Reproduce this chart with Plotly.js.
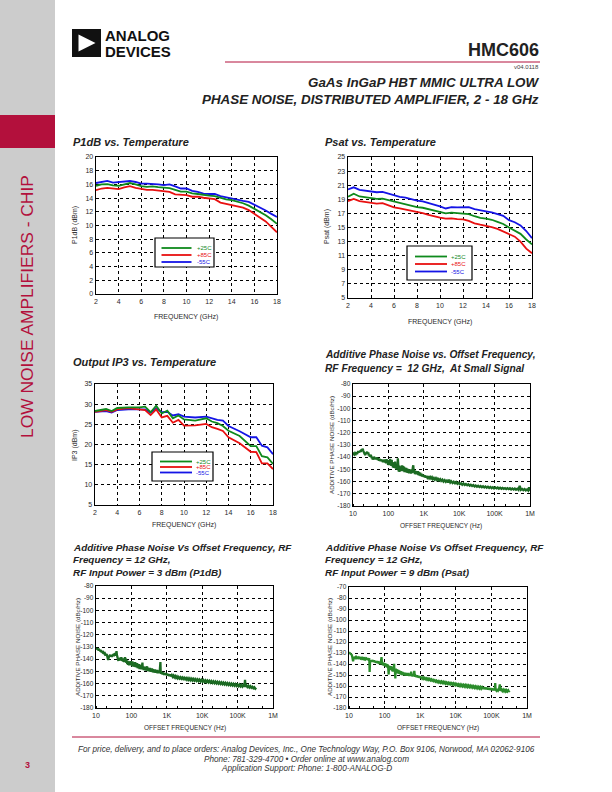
<!DOCTYPE html>
<html><head><meta charset="utf-8">
<script src="https://cdn.plot.ly/plotly-3.0.1.min.js"></script>
<style>html,body{margin:0;padding:0;background:#fff}#chart{width:612px;height:792px}</style>
</head><body><div id="chart"></div>
<script>
// ---------- DATA ----------
const tempFreq = [2,2.5,3,3.5,4,4.5,5,5.5,6,6.5,7,7.5,8,8.5,9,9.5,10,10.5,11,11.5,12,12.5,13,13.5,14,14.5,15,15.5,16,16.5,17,17.5,18];
const p1dbP25 = [15.8,16.0,16.05,15.85,15.8,16.0,16.2,16.0,15.75,15.65,15.7,15.6,15.5,15.45,15.2,14.95,14.95,14.7,14.6,14.45,14.35,14.3,14.0,13.8,13.7,13.5,13.25,12.9,12.45,12.0,11.5,10.9,10.25];
const p1dbP85 = [15.15,15.4,15.5,15.35,15.3,15.55,15.75,15.5,15.3,15.2,15.2,15.1,15.0,14.9,14.55,14.45,14.45,14.2,14.2,14.05,14.0,13.85,13.35,13.15,13.05,12.85,12.6,12.25,11.7,11.2,10.6,9.8,9.0];
const p1dbM55 = [16.2,16.4,16.5,16.25,16.3,16.45,16.5,16.35,16.1,16.1,16.1,16.0,15.9,16.0,15.7,15.4,15.4,15.05,14.9,14.65,14.6,14.6,14.3,14.1,13.95,13.8,13.6,13.45,13.05,12.6,12.2,11.7,11.25];

const psatP25 = [19.35,19.8,19.4,19.3,19.2,19.05,19.1,18.9,18.6,18.45,18.3,18.1,17.9,17.8,17.6,17.35,17.2,17.0,17.1,17.0,16.9,16.9,16.6,16.35,16.25,16.1,15.8,15.5,15.0,14.6,14.1,13.3,12.6];
const psatP85 = [18.75,19.05,18.75,18.65,18.55,18.4,18.45,18.15,17.85,17.7,17.55,17.4,17.25,17.05,16.8,16.55,16.4,16.25,16.3,16.2,16.15,15.95,15.6,15.4,15.25,15.05,14.8,14.45,14.1,13.7,13.0,12.0,11.35];
const psatM55 = [20.4,20.7,20.35,20.25,20.15,20.0,20.05,19.8,19.5,19.35,19.25,19.0,18.8,18.7,18.5,18.25,18.0,17.7,17.9,17.85,17.85,17.9,17.6,17.4,17.3,17.15,16.9,16.65,16.05,15.75,15.3,14.5,13.5];

const ip3Freq = [2,3,3.5,4,5,6,6.5,7,7.5,8,8.5,9,9.5,10,11,12,12.5,13,13.5,14,15,16,16.5,17,17.5,18];
const ip3P25 = [28.3,28.8,28.3,29.05,29.2,29.2,29.4,28.0,29.6,27.7,28.4,26.5,27.2,26.2,25.9,26.5,25.7,25.3,24.6,23.4,22.1,19.6,19.6,17.1,16.8,15.2];
const ip3P85 = [28.1,28.55,28.1,28.7,29.0,28.8,28.55,27.3,28.7,26.7,27.1,25.4,26.1,24.7,24.75,25.1,24.3,23.85,23.35,21.8,20.3,18.2,18.1,15.3,15.3,13.9];
const ip3M55 = [28.1,28.3,27.9,28.55,28.7,28.7,28.7,27.9,29.0,28.0,28.1,27.2,27.5,26.9,26.7,26.9,26.5,26.1,25.9,24.6,23.3,21.8,21.8,19.7,19.3,17.6];

// Additive phase noise, small signal (offset Hz, dBc/Hz)
const pnSmallFreq = [10,10.5,11,11.5,12,12.5,13,13.5,14,14.5,15,15.5,16,16.5,17,17.5,18,18.5,19,19.5,20,21,22,23,24,25,26,27,28,29,30,31,32,33,34,35,36,37,38,39,40,42,44,46,48,50,52,54,56,58,60,62,64,66,68,70,72,75,78,80,83,86,89,92,95,98,100,103,106,109,112,115,118,121,124,127,130,134,138,142,146,150,155,160,165,170,175,180,185,190,195,200,206,212,218,225,232,240,248,256,265,275,285,295,306,318,330,342,355,368,382,396,410,425,440,456,472,490,505,520,540,560,580,600,625,650,675,700,730,760,790,820,860,900,950,1000,1060,1120,1190,1260,1340,1420,1510,1600,1700,1800,1920,2050,2200,2350,2500,2700,2900,3100,3350,3600,3900,4200,4500,4850,5200,5600,6000,6500,7000,7600,8200,8900,9600,10400,11300,12200,13200,14300,15500,16800,18200,19700,21300,23100,25000,27100,29300,31700,34300,37200,40300,43600,47200,51100,55300,59900,64800,70200,76000,82300,89100,96500,104500,113000,122400,132500,143500,155300,168200,182100,197100,213400,231100,250200,270900,293300,317600,343900,372300,403100,436500,472600,511700,554000,599800,649400,703200,761300,824300,892500,940000,966300,1000000];
const pnSmall = [-138.5,-137.2,-137.8,-136.6,-137.2,-136,-137.3,-135.8,-135.2,-136.2,-135,-135.8,-134.6,-135.6,-134.2,-133.6,-134.4,-133.2,-133.6,-134.8,-135.4,-137,-138.2,-137,-136.4,-135.6,-137.2,-136.2,-138.6,-137.8,-139.6,-138.4,-138,-139.8,-140.8,-139.6,-142,-140.6,-141.4,-139.8,-140.2,-141.8,-140.4,-141.6,-140.2,-142.2,-140.8,-142.8,-141.2,-143.2,-141.6,-143.4,-141.8,-143.6,-142,-144.2,-142.2,-143.8,-141.8,-144.4,-142.2,-145,-141.6,-144.8,-142.4,-146.2,-143.2,-146.4,-142.6,-145.8,-141.4,-146.6,-143,-147.2,-142.2,-146.8,-144,-148.4,-144.2,-148.8,-145,-147.8,-143.6,-149.2,-145.6,-150.2,-146.2,-149.6,-141,-148.4,-151.6,-146.8,-152,-147.4,-151.2,-147.8,-150.8,-146.6,-151.4,-147.2,-150.4,-147.8,-152.2,-148.6,-151.8,-148.8,-152.6,-149.4,-152.8,-149.8,-153.2,-150.4,-152.6,-150,-153.4,-150.2,-152.8,-148.4,-146.6,-152.4,-150.6,-153.8,-151.2,-154,-151.6,-153.8,-151.4,-154.6,-152.2,-155,-152.8,-155.4,-153.6,-155.8,-154.2,-156.2,-155,-156.6,-155.4,-156.8,-155.6,-157.2,-156.2,-157.4,-156.4,-158,-157,-158.4,-157.2,-158.6,-157.6,-159,-158,-159.4,-158.4,-160,-158.8,-160.2,-159.2,-160.6,-158.4,-160.8,-159.8,-161.2,-160.2,-161.4,-160.4,-161.8,-161,-162.2,-161.4,-162.6,-161.6,-162.8,-162,-163,-162.2,-163.4,-162.6,-163.6,-162.8,-164,-163.2,-164.2,-163.4,-164.4,-163.6,-164.6,-163.8,-164.8,-164,-165,-164.2,-165.2,-164.4,-165.4,-164.6,-165.6,-164.8,-165.6,-164.9,-165.8,-165,-165.9,-165.2,-166,-165.3,-166.1,-165.4,-166.2,-165.5,-166.4,-165.6,-166.5,-165.7,-166.6,-165.8,-166.8,-163.4,-166.8,-166,-167,-166.2,-167.2,-166.4,-167.3,-164.6,-166.6,-167.4];

// Additive phase noise, RF input power 3 dBm (P1dB)
const pnP1Freq = [10,10.5,11,11.5,12,12.5,13,13.5,14,14.5,15,15.5,16,16.5,17,17.5,18,18.5,19,19.5,20,21,22,23,24,25,26,27,28,29,30,31,32,33,34,35,36,37,38,39,40,41,42,43,44,46,48,50,52,54,56,58,60,62,64,66,68,70,72,74,76,78,80,83,86,89,92,95,98,101,104,107,110,113,116,120,124,128,132,136,140,145,150,155,160,165,170,176,182,188,194,200,205,210,216,222,229,236,244,252,260,268,277,286,295,305,315,325,336,347,358,370,382,395,408,422,436,450,465,480,496,512,530,548,566,585,605,625,645,660,672,690,712,735,760,785,812,840,870,900,940,980,1020,1070,1120,1180,1240,1310,1380,1460,1540,1630,1720,1820,1930,2040,2160,2290,2430,2580,2740,2910,3090,3290,3500,3720,3960,4210,4480,4770,5080,5410,5760,6140,6540,6970,7430,7920,8440,9000,9600,10240,10920,11650,12430,13260,14150,15100,16110,17190,18340,19570,20880,22280,23770,25360,27060,28870,30800,32860,35060,37410,39910,42580,45430,48470,51710,55170,58860,62800,67000,71480,76260,81360,86800,92610,98800,105400,112500,120000,128000,136600,145700,155500,162000,168000,177000,189000,201600,215100,229500,244800,261200,278700,297300,317200,335000];
const pnP1 = [-131,-131.6,-131.4,-132.2,-132,-132.8,-132.6,-133.4,-133.2,-134,-133.6,-134.6,-134.2,-135.2,-134.8,-135.8,-135.2,-136.2,-135.6,-136.8,-135.8,-137.6,-140.6,-138.4,-137.2,-136.4,-137.8,-136.6,-138.2,-136.4,-137.4,-135.8,-137.6,-135.2,-136.8,-134.8,-137.2,-134.2,-133.4,-136.6,-138.4,-141.2,-139.6,-141.4,-139.2,-141,-138.8,-140.6,-138.4,-141.4,-139.4,-142,-139.8,-142.4,-140.2,-138.4,-141.8,-139.6,-143,-141,-143.8,-141.4,-144.6,-141.8,-145,-142.2,-144.4,-141.6,-144.8,-142.4,-145.6,-141.8,-145.8,-142.6,-146.2,-143.2,-145.6,-142.4,-146.6,-143.6,-146,-143.2,-147.4,-144.4,-146.8,-144,-148.2,-145,-147.8,-144.6,-148.4,-145.4,-142.8,-148.2,-145.8,-149,-146.2,-148.6,-146,-149.4,-146.6,-148.8,-145.8,-149.6,-147,-150,-147.4,-149.8,-147.2,-150.4,-147.8,-149.8,-147.6,-150.6,-148.2,-151,-148.6,-150.4,-148.4,-151.2,-149,-150.8,-148.8,-151.6,-149.4,-151.2,-149.2,-151.6,-148,-142.4,-150.6,-152,-150.2,-152.4,-150.6,-152.6,-151,-153,-151.4,-152.8,-151.4,-153.2,-151.8,-153.4,-152.2,-153.8,-152.6,-154,-153,-154.4,-153.4,-154.8,-153.8,-155.2,-154.2,-155.6,-154.6,-155.8,-154.8,-156,-155,-156.2,-155.2,-156.4,-155.4,-156.8,-155.6,-157,-155.8,-157.2,-156,-157.4,-156.2,-157.6,-156.4,-157.8,-156.6,-158,-156.8,-158.2,-157,-158.4,-157.2,-158.6,-157.4,-158.8,-157.6,-159,-157.8,-159.2,-158,-159.4,-158.2,-159.6,-158.4,-159.8,-158.6,-160,-158.8,-160.2,-159,-160.4,-159.2,-160.6,-159.4,-160.8,-159.6,-161,-159.8,-161.2,-160,-161.4,-160.2,-161.6,-160.4,-161.8,-160.6,-162,-160.8,-162.2,-161,-162.4,-161.2,-162.6,-157,-162.4,-161.4,-162.8,-161.8,-163.2,-162.2,-163.4,-162.6,-163.8,-163,-164.2,-163.4];

// Additive phase noise, RF input power 9 dBm (Psat)
const pnSatFreq = [10,10.5,11,11.5,12,12.5,13,13.5,14,14.5,15,15.5,16,17,18,19,20,21,22,23,24,25,26,27,28,29,30,31,32,33,34,35,36,37,37.5,38,38.5,39,40,41,42,44,46,48,50,52,54,56,58,60,62,64,66,68,70,72,74,76,78,80,82,84,86,88,90,93,96,99,102,105,108,111,114,117,120,123,126,128,130,132,134,137,140,143,146,150,154,158,162,166,170,175,180,185,188,191,194,197,200,203,207,212,217,222,228,234,240,247,254,261,268,276,284,292,300,309,318,327,337,347,357,368,379,390,402,414,426,439,452,466,480,494,509,524,540,556,573,590,608,626,645,664,684,700,720,742,764,787,810,835,860,886,912,940,968,1000,1040,1090,1140,1200,1260,1330,1400,1480,1560,1650,1740,1840,1940,2050,2170,2290,2420,2560,2700,2850,3010,3180,3360,3550,3750,3960,4180,4420,4670,4930,5210,5500,5810,6140,6480,6850,7230,7640,8070,8520,9000,9510,10040,10610,11200,11830,12500,13200,13940,14730,15550,16430,17350,18330,19360,20450,21600,22810,24090,25450,26880,28390,29980,31670,33450,35330,37310,39410,41630,43970,46440,49050,51810,54720,57800,61050,64480,68110,71940,75980,80250,84760,89530,94560,99880,105500,111400,117700,124300,128000,131300,138700,146500,154700,163400,172600,176000,182300,192500,203300,214800,226800,239600,253100,267300,282300,298200,310000,320000];
const pnSat = [-129.4,-130,-130.6,-131.2,-131.8,-134.4,-137.6,-135.2,-133.6,-134.2,-133.8,-134.4,-133.6,-134.6,-134,-134.8,-134.2,-135,-134.4,-135.2,-134.6,-135.4,-134.8,-135.6,-135,-135.8,-135.2,-136,-135.2,-136,-135.4,-136.2,-135.4,-134.8,-140,-147.2,-141.4,-138.4,-136.8,-137.8,-136.6,-137.8,-136.4,-138,-136.8,-138.4,-137,-138.8,-137.2,-139,-137.4,-139.2,-137.6,-139.6,-137.8,-140,-138,-140.2,-138.4,-136.4,-133.8,-137.6,-140.4,-138.6,-141,-138.8,-141.4,-139.2,-141.8,-139.4,-142.4,-140,-142.8,-140.2,-143.2,-140.6,-143,-146.4,-149.6,-144.8,-141.6,-144.4,-141.8,-145,-142,-145.6,-142.4,-146,-143,-146.6,-143.4,-147,-143.8,-139.8,-145.4,-148.2,-145,-150.6,-153.2,-147.2,-144.2,-147.8,-144.6,-148.2,-145,-148.6,-145.4,-148.8,-145.8,-149,-146.2,-149.4,-146.6,-149.6,-147,-150,-147.2,-150.2,-147.6,-150.4,-147.8,-150.6,-148,-150.2,-148.2,-150.8,-148.4,-150.6,-148.2,-150.8,-148.6,-151,-148.8,-150.8,-148.6,-147,-151,-149.2,-151.4,-149.4,-151.2,-149.6,-146.2,-149.8,-151.6,-150,-151.8,-150.2,-152,-150.6,-152.2,-150.8,-152.4,-151,-152.6,-151.4,-152.8,-151.8,-153.2,-152.2,-153.4,-152.6,-153.8,-153,-154.2,-153.2,-154.4,-153.6,-154.8,-154,-155.2,-154.4,-155.6,-154.8,-156,-155.2,-156.4,-155.6,-156.8,-155.8,-157,-156,-157.2,-156.2,-157.4,-156.4,-157.8,-156.8,-158,-157,-158.2,-157.2,-158.4,-157.4,-158.6,-157.6,-158.8,-157.8,-159.2,-158.2,-159.4,-158.4,-159.8,-158.6,-160,-158.8,-160.2,-159,-160.4,-159.2,-160.6,-159.4,-160.8,-159.6,-161,-159.8,-161.2,-160,-161.4,-160.2,-161.6,-160.4,-161.8,-160.6,-162,-160.8,-162.2,-161,-162.4,-161.2,-162.6,-161.2,-162.8,-161.4,-163,-161.6,-163.2,-161.8,-163.4,-162,-163.6,-162.2,-163.8,-162.4,-164,-157.4,-163.2,-164.2,-162.8,-164.2,-163,-158.6,-163.4,-164.4,-163.2,-164.6,-163.4,-164.8,-163.6,-165,-163.8,-165,-164,-165.2,-164.2];

const tempLabels = ['+25C','+85C','-55C'];
const logTickVals = [10,100,1000,10000,100000,1000000];
const logTickText = ['10','100','1K','10K','100K','1M'];
const pnTickVals = [-180,-170,-160,-150,-140,-130,-120,-110,-100,-90,-80,-70];
const pnTickText = ['-180','-170','-160','-150','-140','-130','-120','-110','-100','-90','-80','-70'];

// ---------- STYLE ----------
const FONT = 'Liberation Sans, Arial, Helvetica, sans-serif';
const W = 612, H = 792;
const px = x => x / W, py = y => 1 - y / H;
const GREEN = '#0e8a1c', RED = '#e81010', BLUE = '#1414e6';
const PN_DARK = '#1b6a22', PN_LIGHT = '#2a8c2a';
const CRIMSON = '#b3103c';
const TXT = '#2a2a2a';

function axis(x0, x1, anchor, extra) {
  return Object.assign({
    domain: [x0, x1], anchor: anchor, showline: true, mirror: true, linecolor: '#000', linewidth: 1.4,
    showgrid: true, gridcolor: '#000', griddash: 'dot', gridwidth: 1, zeroline: false, ticks: '',
    tickfont: {family: FONT, size: 7, color: TXT}, fixedrange: true
  }, extra);
}
const linX = {range: [2, 18], tick0: 2, dtick: 2};
const logX = {type: 'log', range: [1, 6], tickmode: 'array', tickvals: logTickVals, ticktext: logTickText,
  minor: {ticks: 'inside', ticklen: 2.5, tickcolor: '#000', showgrid: false}};
const pnY = r => ({range: r, tickmode: 'array', tickvals: pnTickVals, ticktext: pnTickText,
  tickfont: {family: FONT, size: 6.5, color: TXT}});

const layout = {
  width: W, height: H, margin: {l: 0, r: 0, t: 0, b: 0}, showlegend: false,
  paper_bgcolor: '#fff', plot_bgcolor: '#fff',
  xaxis: axis(px(96), px(277), 'y', linX),
  yaxis: axis(py(294), py(157), 'x', {range: [0, 20], tick0: 0, dtick: 2}),
  xaxis2: axis(px(348), px(532), 'y2', linX),
  yaxis2: axis(py(298), py(157), 'x2', {range: [5, 25], tick0: 5, dtick: 2}),
  xaxis3: axis(px(95), px(273), 'y3', linX),
  yaxis3: axis(py(505), py(384), 'x3', {range: [5, 35], tick0: 5, dtick: 5}),
  xaxis4: axis(px(353), px(530), 'y4', logX),
  yaxis4: axis(py(506), py(384), 'x4', pnY([-180, -80])),
  xaxis5: axis(px(96), px(273), 'y5', logX),
  yaxis5: axis(py(708), py(586), 'x5', pnY([-180, -80])),
  xaxis6: axis(px(349), px(527), 'y6', logX),
  yaxis6: axis(py(708), py(587), 'x6', pnY([-180, -70])),
  shapes: [], annotations: []
};

function T(x, y, text, o) {
  o = o || {};
  return {xref: 'paper', yref: 'paper', x: px(x), y: py(y), text: text, showarrow: false,
    xanchor: o.xa || 'left', yanchor: o.ya || 'middle', textangle: o.rot || 0,
    font: {family: FONT, size: o.s || 7, color: o.c || TXT}, borderpad: 0};
}
function R(x0, y0, x1, y1, fill, line, layer) {
  return {type: 'rect', xref: 'paper', yref: 'paper', x0: px(x0), x1: px(x1), y0: py(y1), y1: py(y0),
    fillcolor: fill, line: line || {width: 0}, layer: layer || 'above'};
}
function L(x0, x1, y, color, w) {
  return {type: 'line', xref: 'paper', yref: 'paper', x0: px(x0), x1: px(x1), y0: py(y), y1: py(y),
    line: {color: color, width: w}};
}
const S = layout.shapes, A = layout.annotations;

// sidebar
S.push(R(0, 0, 55, 792, '#cccccc', null, 'below'));
S.push(R(0, 115, 55, 148, CRIMSON, null, 'below'));
A.push(T(27, 307, 'LOW NOISE AMPLIFIERS - CHIP', {xa: 'center', rot: -90, s: 17.4, c: CRIMSON}));
A.push(T(27, 765, '<b>3</b>', {xa: 'center', s: 9, c: CRIMSON}));

// header logo
S.push(R(72, 29, 101, 57, '#111'));
S.push({type: 'path', xref: 'paper', yref: 'paper', fillcolor: '#fff', line: {width: 0},
  path: 'M ' + px(78.5) + ' ' + py(34.5) + ' L ' + px(78.5) + ' ' + py(51.5) + ' L ' + px(95.5) + ' ' + py(43) + ' Z'});
A.push(T(104, 35, '<b>ANALOG</b>', {s: 15, c: '#111'}));
A.push(T(104, 52, '<b>DEVICES</b>', {s: 15, c: '#111'}));
A.push(T(540, 50, '<b>HMC606</b>', {xa: 'right', s: 18, c: '#222'}));
S.push(L(225, 540, 62, CRIMSON, 1));
A.push(T(540, 67.5, 'v04.0118', {xa: 'right', s: 6, c: '#444'}));
A.push(T(540, 83, '<b><i>GaAs InGaP HBT MMIC ULTRA LOW</i></b>', {xa: 'right', s: 13.4, c: '#222'}));
A.push(T(540, 99, '<b><i>PHASE NOISE, DISTRIBUTED AMPLIFIER, 2 - 18 GHz</i></b>', {xa: 'right', s: 13.4, c: '#222'}));

// footer
S.push(L(72, 540, 737, CRIMSON, 1));
A.push(T(306, 749.5, '<i>For price, delivery, and to place orders: Analog Devices, Inc., One Technology Way, P.O. Box 9106, Norwood, MA 02062-9106</i>', {xa: 'center', s: 8.2, c: '#333'}));
A.push(T(306, 759, '<i>Phone: 781-329-4700 \u2022 Order online at www.analog.com</i>', {xa: 'center', s: 8.2, c: '#333'}));
A.push(T(306, 768.5, '<i>Application Support: Phone: 1-800-ANALOG-D</i>', {xa: 'center', s: 8.2, c: '#333'}));

// chart titles
const TT = s => '<b><i>' + s + '</i></b>';
A.push(T(72, 142, TT('P1dB vs. Temperature'), {s: 11, c: '#222'}));
A.push(T(324, 142, TT('Psat vs. Temperature'), {s: 11, c: '#222'}));
A.push(T(72, 362, TT('Output IP3 vs. Temperature'), {s: 11, c: '#222'}));
A.push(T(324, 354, TT('Additive Phase Noise vs. Offset Frequency,'), {s: 10.2, c: '#222'}));
A.push(T(324, 368, TT('RF Frequency =  12 GHz,  At Small Signal'), {s: 10.2, c: '#222'}));
A.push(T(72, 547, TT('Additive Phase Noise Vs Offset Frequency, RF'), {s: 9.9, c: '#222'}));
A.push(T(72, 559.5, TT('Frequency = 12 GHz,'), {s: 9.9, c: '#222'}));
A.push(T(72, 572, TT('RF Input Power = 3 dBm (P1dB)'), {s: 9.9, c: '#222'}));
A.push(T(324, 547, TT('Additive Phase Noise Vs Offset Frequency, RF'), {s: 9.9, c: '#222'}));
A.push(T(324, 559.5, TT('Frequency = 12 GHz,'), {s: 9.9, c: '#222'}));
A.push(T(324, 572, TT('RF Input Power = 9 dBm (Psat)'), {s: 9.9, c: '#222'}));

// axis titles
A.push(T(186, 317, 'FREQUENCY (GHz)', {xa: 'center', s: 7}));
A.push(T(75, 225, 'P1dB (dBm)', {xa: 'center', rot: -90, s: 7}));
A.push(T(440, 322, 'FREQUENCY (GHz)', {xa: 'center', s: 7}));
A.push(T(327, 227, 'Psat (dBm)', {xa: 'center', rot: -90, s: 7}));
A.push(T(184, 525, 'FREQUENCY (GHz)', {xa: 'center', s: 7}));
A.push(T(75, 445, 'IP3 (dBm)', {xa: 'center', rot: -90, s: 7}));
A.push(T(441, 526, 'OFFSET FREQUENCY (Hz)', {xa: 'center', s: 6.5}));
A.push(T(331, 445, 'ADDITIVE PHASE NOISE (dBc/Hz)', {xa: 'center', rot: -90, s: 6.2}));
A.push(T(185, 728, 'OFFSET FREQUENCY (Hz)', {xa: 'center', s: 6.5}));
A.push(T(77, 647, 'ADDITIVE PHASE NOISE (dBc/Hz)', {xa: 'center', rot: -90, s: 6.2}));
A.push(T(438, 728, 'OFFSET FREQUENCY (Hz)', {xa: 'center', s: 6.5}));
A.push(T(329, 647, 'ADDITIVE PHASE NOISE (dBc/Hz)', {xa: 'center', rot: -90, s: 6.2}));

// legends (box, sample lines, coloured labels)
function legend(x0, y0, x1, y1, lx0, lx1, tx, rows) {
  S.push(R(x0, y0, x1, y1, '#fff', {color: '#000', width: 1.2}));
  const cols = [GREEN, RED, BLUE];
  rows.forEach((ry, i) => {
    S.push(L(lx0, lx1, ry, cols[i], 1.8));
    A.push(T(tx, ry, tempLabels[i], {s: 6, c: cols[i]}));
  });
}
legend(155, 238, 214, 267, 161.5, 191.5, 196, [248, 255, 262]);
legend(407, 246, 472, 280, 415, 447, 450, [256.5, 264, 271.5]);
legend(152, 452, 213, 481, 160, 192, 195, [461.5, 467, 472.5]);

// ---------- TRACES ----------
function tr(x, y, xa, ya, color, w) {
  return {type: 'scatter', mode: 'lines', x: x, y: y, xaxis: xa, yaxis: ya,
    line: {color: color, width: w || 1.8}, hoverinfo: 'skip'};
}
const data = [
  tr(tempFreq, p1dbM55, 'x', 'y', BLUE), tr(tempFreq, p1dbP85, 'x', 'y', RED), tr(tempFreq, p1dbP25, 'x', 'y', GREEN),
  tr(tempFreq, psatM55, 'x2', 'y2', BLUE), tr(tempFreq, psatP85, 'x2', 'y2', RED), tr(tempFreq, psatP25, 'x2', 'y2', GREEN),
  tr(ip3Freq, ip3M55, 'x3', 'y3', BLUE), tr(ip3Freq, ip3P85, 'x3', 'y3', RED), tr(ip3Freq, ip3P25, 'x3', 'y3', GREEN),
  tr(pnSmallFreq, pnSmall, 'x4', 'y4', PN_DARK, 2.3),
  tr(pnP1Freq, pnP1, 'x5', 'y5', PN_DARK, 2.3),
  tr(pnSatFreq, pnSat, 'x6', 'y6', PN_LIGHT, 2.3)
];

Plotly.newPlot('chart', data, layout, {staticPlot: true, displayModeBar: false});
</script>
</body></html>
